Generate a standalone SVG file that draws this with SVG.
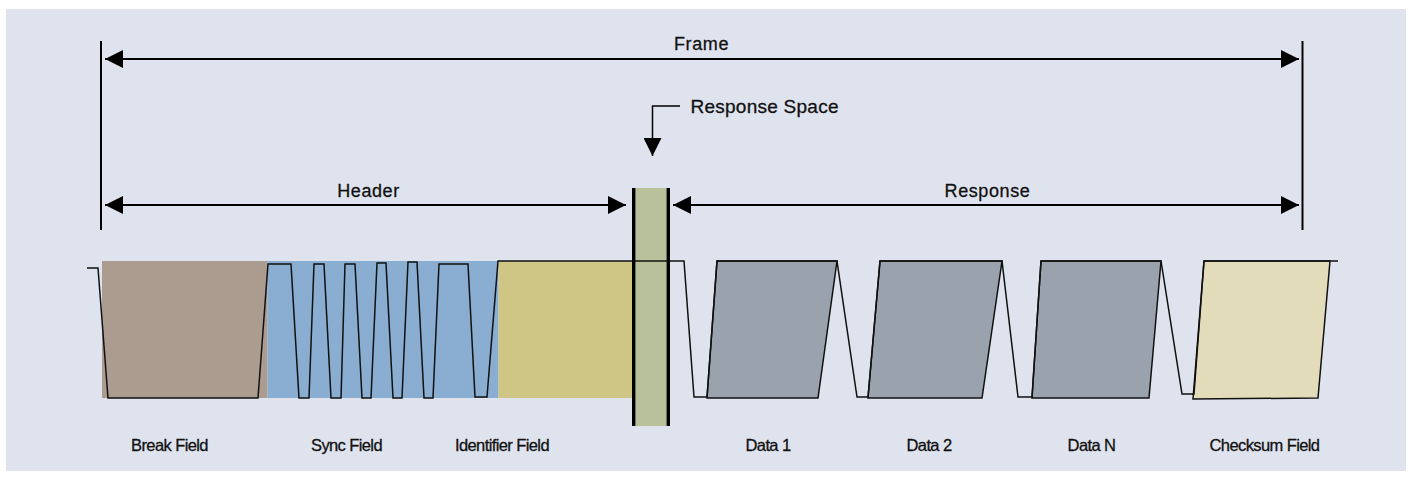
<svg xmlns="http://www.w3.org/2000/svg" width="1412" height="480" viewBox="0 0 1412 480">
<style>
.bg{fill:#dfe3ee}
.lbl{font-family:"Liberation Sans",Arial,sans-serif;font-size:16.5px;letter-spacing:-0.6px;fill:#111;stroke:#111;stroke-width:0.3;text-anchor:middle}
.top{font-family:"Liberation Sans",Arial,sans-serif;font-size:18px;letter-spacing:0.6px;fill:#111;stroke:#111;stroke-width:0.3;text-anchor:middle}
.rs{font-family:"Liberation Sans",Arial,sans-serif;font-size:19px;letter-spacing:0.25px;fill:#111;stroke:#111;stroke-width:0.3}
.wave{fill:none;stroke:#111;stroke-width:1.5;stroke-linejoin:miter}
.shape{stroke:#111;stroke-width:1.5;stroke-linejoin:miter}
.arr{stroke:#000;stroke-width:2;fill:none}
.tick{stroke:#000;stroke-width:2}
</style>
<defs>
<marker id="ah" viewBox="0 0 18 18" refX="18" refY="9" markerWidth="18" markerHeight="18" markerUnits="userSpaceOnUse" orient="auto-start-reverse">
<path d="M0,0 L18,9 L0,18 Z" fill="#000"/>
</marker>
</defs>
<rect x="0" y="0" width="1412" height="480" fill="#ffffff"/>
<rect class="bg" x="6" y="9" width="1400" height="462"/>

<g id="break-field">
<rect x="102" y="261" width="165.5" height="137" fill="#ab9c8f"/>
<text class="lbl" x="169.5" y="451">Break Field</text>
</g>
<g id="sync-field">
<rect x="267.5" y="261" width="231" height="137" fill="#89aed2"/>
<text class="lbl" x="346.5" y="451">Sync Field</text>
</g>
<g id="identifier-field">
<rect x="498.5" y="261" width="134" height="137" fill="#cfc585"/>
<text class="lbl" x="502" y="451">Identifier Field</text>
</g>
<g id="response-space">
<rect x="632" y="188" width="38" height="238" fill="#b8c199"/>
</g>
<g id="data-1">
<polygon class="shape" points="707,398 717,261 837,261 818,398" fill="#9aa3ad"/>
<text class="lbl" x="768" y="451">Data 1</text>
</g>
<g id="data-2">
<polygon class="shape" points="868,398 880,261 1002,261 982,398" fill="#9aa3ad"/>
<text class="lbl" x="929" y="451">Data 2</text>
</g>
<g id="data-n">
<polygon class="shape" points="1032,398 1041,261 1161,261 1149,398" fill="#9aa3ad"/>
<text class="lbl" x="1091.5" y="451">Data N</text>
</g>
<g id="checksum-field">
<polygon class="shape" points="1193,399 1204,261 1330,261 1318,398" fill="#e2dcba"/>
<text class="lbl" x="1264.5" y="451">Checksum Field</text>
</g>

<g id="waveform">
<polyline class="wave" points="87,268 98,268 108,398 258,398 268,264 291,264 299,398 309,398 314,264 324,264 331,398 341,398 345,264 355,264 362,398 371,398 377,263 386,263 393,398 402,398 408,262 417,262 424,398 433,398 439,264 468,264 475,397 487,397 498,261 684,261 694,397 707,397 717,261 837,261 857,397 868,397 880,261 1002,261 1018,397 1032,397 1041,261 1161,261 1182,394 1194,394 1204,261 1338,261"/>
</g>

<g id="response-space-borders">
<line x1="633.7" y1="188" x2="633.7" y2="426" stroke="#000" stroke-width="3.4"/>
<line x1="668.3" y1="188" x2="668.3" y2="426" stroke="#000" stroke-width="3.4"/>
</g>

<g id="connectors">
<line class="tick" x1="101" y1="41" x2="101" y2="230"/>
<line class="tick" x1="1302.5" y1="41" x2="1302.5" y2="230"/>
<line class="arr" x1="105" y1="59" x2="1299" y2="59" marker-start="url(#ah)" marker-end="url(#ah)"/>
<line class="arr" x1="105" y1="205" x2="626" y2="205" marker-start="url(#ah)" marker-end="url(#ah)"/>
<line class="arr" x1="673" y1="205" x2="1299" y2="205" marker-start="url(#ah)" marker-end="url(#ah)"/>
<polyline points="680,106 652.5,106 652.5,156" fill="none" stroke="#000" stroke-width="1.5" marker-end="url(#ah)"/>
</g>

<g id="labels">
<text class="top" x="701.5" y="50">Frame</text>
<text class="top" x="368.5" y="197">Header</text>
<text class="top" x="987.5" y="197">Response</text>
<text class="rs" x="690.5" y="113">Response Space</text>
</g>
</svg>
